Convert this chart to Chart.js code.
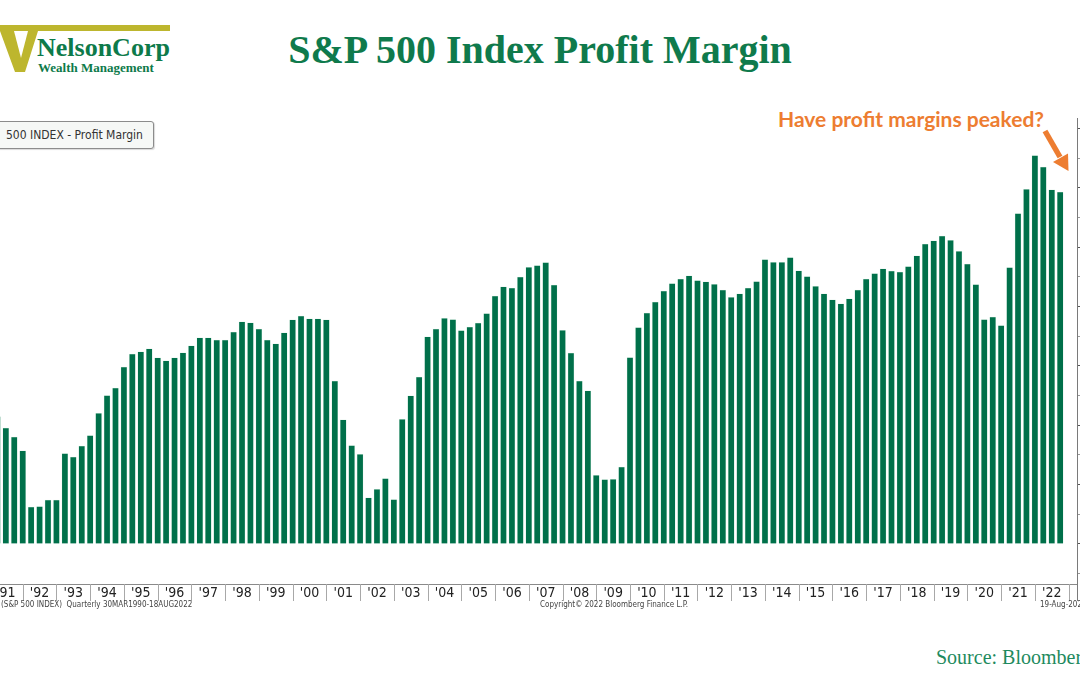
<!DOCTYPE html>
<html><head><meta charset="utf-8">
<script src="https://cdn.jsdelivr.net/npm/chart.js@4.4.0/dist/chart.umd.min.js"></script>
<style>
html,body{margin:0;padding:0;background:#fff;width:1080px;height:675px;overflow:hidden;position:relative;}
.abs{position:absolute;white-space:nowrap;line-height:1;}
#title{left:0;width:1080px;text-align:center;top:30px;font-family:'Liberation Serif','Times New Roman',serif;font-weight:bold;font-size:40px;color:#0f7a4c;}
#logo1{left:37px;top:35px;font-family:'Liberation Serif',serif;font-weight:bold;font-size:26px;color:#0d7a4a;}
#logo2{left:38px;top:61px;font-family:'Liberation Serif',serif;font-weight:bold;font-size:13px;color:#0d7a4a;}
#legend{left:-4px;top:121px;width:156px;height:26px;border:1px solid #8c8c8c;border-radius:3px;background:#f6f8f6;box-shadow:1px 1px 1px rgba(0,0,0,0.15);}
#legend span{position:absolute;left:9px;top:7px;font-family:'DejaVu Sans Condensed','DejaVu Sans',sans-serif;font-size:12px;color:#333;line-height:1;}
#annot{left:778px;top:108px;font-family:Lato,'Open Sans',sans-serif;font-weight:700;font-size:21px;color:#ed7d31;}
.foot{top:601px;font-family:'DejaVu Sans Condensed','DejaVu Sans',sans-serif;font-size:8px;color:#444;}
#source{left:936px;top:647px;font-family:'Liberation Serif',serif;font-size:20px;color:#1e8a5e;}
#wrap{position:absolute;left:0;top:100px;width:1080px;height:510px;}
svg{position:absolute;left:0;top:0;}
</style></head><body>
<svg width="1080" height="675">
  <polygon points="0,25 170,25 170,31 38,31 25,72 15,72 0,31" fill="#bdb62e"/>
  <polygon points="14,31 28,31 21,58" fill="#ffffff"/>
  <line x1="1045" y1="131" x2="1060" y2="157" stroke="#ed7d31" stroke-width="5.5"/>
  <polygon points="1068.5,171 1053,162 1068,153.5" fill="#ed7d31"/>
</svg>
<div id="title" class="abs">S&amp;P 500 Index Profit Margin</div>
<div id="logo1" class="abs">NelsonCorp</div>
<div id="logo2" class="abs">Wealth Management</div>
<div id="legend" class="abs"><span>500 INDEX - Profit Margin</span></div>
<div id="annot" class="abs">Have profit margins peaked?</div>
<div id="wrap"><canvas id="c" width="1080" height="510"></canvas></div>
<div class="abs foot" style="left:1px;">(S&amp;P 500 INDEX)&nbsp; Quarterly 30MAR1990-18AUG2022</div>
<div class="abs foot" style="left:540px;">Copyright© 2022 Bloomberg Finance L.P.</div>
<div class="abs foot" style="left:1040px;">19-Aug-2022</div>
<div id="source" class="abs">Source: Bloomberg</div>
<script>
// Quarterly S&P 500 profit margin (%), Mar-1991 .. Sep-2022
const firstYear = 1991;
const profitMargin = [
  4.29, 3.90, 3.60, 3.14,   // 1991
  1.24, 1.26, 1.48, 1.48,   // 1992
  3.04, 2.93, 3.30, 3.65,   // 1993
  4.40, 5.00, 5.25, 5.96,   // 1994
  6.40, 6.47, 6.57, 6.27,   // 1995
  6.17, 6.27, 6.44, 6.67,   // 1996
  6.94, 6.94, 6.87, 6.87,   // 1997
  7.14, 7.48, 7.45, 7.24,   // 1998
  6.87, 6.74, 7.11, 7.55,   // 1999
  7.68, 7.58, 7.58, 7.55,   // 2000
  5.49, 4.18, 3.31, 3.02,   // 2001
  1.55, 1.84, 2.20, 1.49,   // 2002
  4.20, 4.99, 5.62, 6.98,   // 2003
  7.24, 7.60, 7.56, 7.19,   // 2004
  7.31, 7.44, 7.76, 8.35,   // 2005
  8.66, 8.62, 8.99, 9.32,   // 2006
  9.38, 9.48, 8.72, 7.20,   // 2007
  6.43, 5.49, 5.16, 2.31,   // 2008
  2.17, 2.18, 2.59, 6.28,   // 2009
  7.29, 7.78, 8.15, 8.52,   // 2010
  8.77, 8.92, 9.03, 8.87,   // 2011
  8.83, 8.75, 8.55, 8.31,   // 2012
  8.43, 8.62, 8.84, 9.58,   // 2013
  9.49, 9.49, 9.65, 9.20,   // 2014
  9.01, 8.68, 8.43, 8.22,   // 2015
  8.09, 8.26, 8.55, 8.92,   // 2016
  9.11, 9.27, 9.19, 9.16,   // 2017
  9.34, 9.71, 10.10, 10.21, // 2018
  10.37, 10.23, 9.86, 9.43, // 2019
  8.74, 7.56, 7.64, 7.36,   // 2020
  9.31, 11.13, 11.95, 13.08,// 2021
  12.70, 11.93, 11.85       // 2022
];
const yearTicks = [1991,1992,1993,1994,1995,1996,1997,1998,1999,2000,2001,2002,2003,2004,2005,2006,2007,2008,2009,2010,2011,2012,2013,2014,2015,2016,2017,2018,2019,2020,2021,2022];
const yearLabels = ["'91","'92","'93","'94","'95","'96","'97","'98","'99","'00","'01","'02","'03","'04","'05","'06","'07","'08","'09","'10","'11","'12","'13","'14","'15","'16","'17","'18","'19","'20","'21","'22"];

// quarter-end position: Mar of year Y -> Y+0.25 ... Dec of year Y -> Y+1
const points = profitMargin.map((v, i) => ({ x: firstYear + (i + 1) / 4, y: v }));

const axisFont = { family: "'DejaVu Sans Condensed','DejaVu Sans',sans-serif", size: 14 };

const decor = {
  id: 'decor',
  afterDraw(chart) {
    const xs = chart.scales.x, a = chart.chartArea, c = chart.ctx;
    c.save();
    c.strokeStyle = '#a8a8a8'; c.lineWidth = 1;
    yearTicks.concat([2023]).forEach(y => {
      if (y === 1991) return;
      const px = Math.round(xs.getPixelForValue(y)) + 0.5;
      c.beginPath(); c.moveTo(px, a.bottom); c.lineTo(px, a.bottom + 17); c.stroke();
    });
    c.strokeStyle = '#7a7a7a';
    c.beginPath(); c.moveTo(a.right + 0.5, a.bottom); c.lineTo(a.right + 0.5, a.bottom + 17); c.stroke();
    c.restore();
  }
};

new Chart(document.getElementById('c'), {
  type: 'bar',
  data: { datasets: [{
    label: 'S&P 500 INDEX - Profit Margin',
    data: points,
    backgroundColor: '#00704a',
    borderColor: '#d4ece0',
    borderWidth: 0.5,
    barThickness: 6
  }]},
  options: {
    responsive: false, animation: false,
    layout: { padding: { top: 18, left: 0, right: 0, bottom: 0 } },
    plugins: { legend: { display: false }, tooltip: { enabled: false } },
    scales: {
      x: {
        type: 'linear', min: 1991.327, max: 2023.248, offset: false,
        grid: { display: false, drawTicks: false, tickLength: 0 },
        border: { display: true, color: '#8a8a8a' },
        afterBuildTicks: s => { s.ticks = yearTicks.map(y => ({ value: y + 0.5 })); },
        afterFit: s => { s.height = 26; s.paddingLeft = 0; s.paddingRight = 0; },
        ticks: { autoSkip: false, maxRotation: 0, minRotation: 0, padding: 1, font: axisFont, color: '#222',
                 callback: (v, i) => yearLabels[i] }
      },
      y: {
        position: 'right', min: -1.35, max: 14.35,
        grid: { drawOnChartArea: false, tickLength: 4,
                color: ctx => (ctx.tick && ctx.tick.value % 2 === 0) ? '#555' : '#999' },
        border: { display: true, color: '#7a7a7a' },
        afterFit: s => { s.width = 3; s.paddingTop = 0; s.paddingBottom = 0; },
        ticks: { stepSize: 1, includeBounds: false, display: false }
      }
    }
  },
  plugins: [decor]
});
</script>
</body></html>
